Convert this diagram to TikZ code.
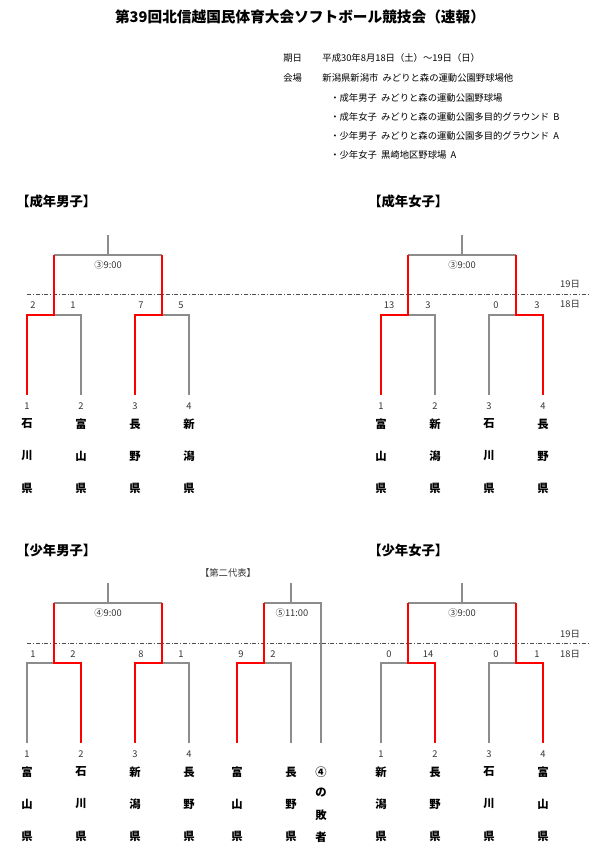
\documentclass[tikz,border=0pt]{standalone}
\usepackage{fontspec}
\setmainfont{Noto Sans CJK JP}
\begin{document}
\begin{tikzpicture}[x=0.75pt,y=-0.75pt,
  ln/.style={draw=gray!90,line width=0.8pt},
  rd/.style={draw=red,line width=1.5pt},
  dl/.style={draw=black!70,line width=0.5pt,dash pattern=on 3pt off 1.5pt on 0.5pt off 1.5pt},
  sm/.style={font=\fontsize{7}{8}\selectfont,text=black!80,inner sep=0pt},
  pf/.style={font=\bfseries\fontsize{8.5}{9}\selectfont,inner sep=0pt},
  hd/.style={font=\bfseries\fontsize{10}{11}\selectfont,inner sep=0pt,anchor=west},
  inf/.style={font=\fontsize{7}{8}\selectfont,inner sep=0pt,anchor=west}]
\useasboundingbox (0,0) rectangle (600,856);
\node[font=\bfseries\fontsize{11}{12}\selectfont] (title) at (300,17) {第39回北信越国民体育大会ソフトボール競技会（速報）};
\node[inf] (i1) at (283,58) {期日\hspace{2.2em}平成30年8月18日（土）〜19日（日）};
\node[inf] (i2) at (283,78) {会場\hspace{2.2em}新潟県新潟市\ \ みどりと森の運動公園野球場他};
\node[inf] (i3) at (330,98) {・成年男子\ \ みどりと森の運動公園野球場};
\node[inf] (i4) at (330,117) {・成年女子\ \ みどりと森の運動公園多目的グラウンド\ \ B};
\node[inf] (i5) at (330,136) {・少年男子\ \ みどりと森の運動公園多目的グラウンド\ \ A};
\node[inf] (i6) at (330,155) {・少年女子\ \ 黒崎地区野球場\ \ A};
\node[hd] (h1) at (16,201) {【成年男子】};
\node[hd] (h2) at (368,201) {【成年女子】};
\node[hd] (h3) at (16,550) {【少年男子】};
\node[hd] (h4) at (368,550) {【少年女子】};
% date lines
\coordinate (d1a) at (27,294); \coordinate (d1b) at (590,294);
\draw[dl] (d1a) -- (d1b);
\coordinate (d2a) at (27,643); \coordinate (d2b) at (590,643);
\draw[dl] (d2a) -- (d2b);
\node[sm] (l19a) at (570,284) {19日}; \node[sm] (l18a) at (570,304) {18日};
\node[sm] (l19b) at (570,634) {19日}; \node[sm] (l18b) at (570,654) {18日};
% generic bracket macro: #1 left x, #2 join y, #3 top y, #4 bottom y
\newcommand{\bracket}[7]{%
 % #1 x0, #2 ytop, #3 time, #4..#7 scores
 \pgfmathsetmacro{\xa}{#1}\pgfmathsetmacro{\xb}{#1+54}\pgfmathsetmacro{\xc}{#1+108}\pgfmathsetmacro{\xd}{#1+162}
}
% ---------- Bracket A
\foreach \p/\nm/\sc/\num/\a/\b/\c in {A/0/0/0/0/0/0}{}
\def\team#1#2#3#4#5#6{% x, ybot, number, c1,c2,c3
 \node[sm] at (#1,#2+11) {#3};
 \node[pf] at (#1,#2+29) {#4};
 \node[pf] at (#1,#2+61) {#5};
 \node[pf] at (#1,#2+93) {#6};}
% A: 成年男子
\coordinate (a1) at (27,395); \coordinate (a2) at (81,395); \coordinate (a3) at (135,395); \coordinate (a4) at (189,395);
\draw[ln] (a2) |- (54,315); \draw[ln] (a4) |- (162,315);
\draw[ln] (54,255) -- (162,255); \draw[ln] (108,255) -- (108,235);
\draw[rd] (a1) |- (54,315) -- (54,255);
\draw[rd] (a3) |- (162,315) -- (162,255);
\node[sm] at (108,265) {③9:00};
\node[sm] at (33,305) {2}; \node[sm] at (73,305) {1}; \node[sm] at (141,305) {7}; \node[sm] at (181,305) {5};
\team{27}{395}{1}{石}{川}{県}\team{81}{395}{2}{富}{山}{県}\team{135}{395}{3}{長}{野}{県}\team{189}{395}{4}{新}{潟}{県}
% B: 成年女子
\coordinate (b1) at (381,395); \coordinate (b2) at (435,395); \coordinate (b3) at (489,395); \coordinate (b4) at (543,395);
\draw[ln] (b2) |- (408,315); \draw[ln] (b3) |- (516,315);
\draw[ln] (408,255) -- (516,255); \draw[ln] (462,255) -- (462,235);
\draw[rd] (b1) |- (408,315) -- (408,255);
\draw[rd] (b4) |- (516,315) -- (516,255);
\node[sm] at (462,265) {③9:00};
\node[sm] at (389,305) {13}; \node[sm] at (428,305) {3}; \node[sm] at (496,305) {0}; \node[sm] at (537,305) {3};
\team{381}{395}{1}{富}{山}{県}\team{435}{395}{2}{新}{潟}{県}\team{489}{395}{3}{石}{川}{県}\team{543}{395}{4}{長}{野}{県}
% C: 少年男子
\coordinate (c1) at (27,743); \coordinate (c2) at (81,743); \coordinate (c3) at (135,743); \coordinate (c4) at (189,743);
\coordinate (c5) at (237,743); \coordinate (c6) at (291,743); \coordinate (c7) at (321,743);
\draw[ln] (c1) |- (54,663); \draw[ln] (c4) |- (162,663);
\draw[ln] (54,603) -- (162,603); \draw[ln] (108,603) -- (108,583);
\draw[rd] (c2) |- (54,663) -- (54,603);
\draw[rd] (c3) |- (162,663) -- (162,603);
\node[sm] at (108,613) {④9:00};
\node[sm] at (33,654) {1}; \node[sm] at (73,654) {2}; \node[sm] at (141,654) {8}; \node[sm] at (181,654) {1};
\draw[ln] (c6) |- (264,663); \draw[ln] (c7) |- (264,603); \draw[ln] (291,603) -- (291,583);
\draw[rd] (c5) |- (264,663) -- (264,603);
\node[sm] at (292,613) {⑤11:00};
\node[sm] at (241,654) {9}; \node[sm] at (273,654) {2};
\node[sm] (dai2) at (228,573) {【第二代表】};
\team{27}{743}{1}{富}{山}{県}\team{81}{743}{2}{石}{川}{県}\team{135}{743}{3}{新}{潟}{県}\team{189}{743}{4}{長}{野}{県}
\team{237}{743}{}{富}{山}{県}\team{291}{743}{}{長}{野}{県}
\node[pf] at (321,772) {④}; \node[pf] at (321,793) {の}; \node[pf] at (321,815) {敗}; \node[pf] at (321,837) {者};
% D: 少年女子
\coordinate (e1) at (381,743); \coordinate (e2) at (435,743); \coordinate (e3) at (489,743); \coordinate (e4) at (543,743);
\draw[ln] (e1) |- (408,663); \draw[ln] (e3) |- (516,663);
\draw[ln] (408,603) -- (516,603); \draw[ln] (462,603) -- (462,583);
\draw[rd] (e2) |- (408,663) -- (408,603);
\draw[rd] (e4) |- (516,663) -- (516,603);
\node[sm] at (462,613) {③9:00};
\node[sm] at (389,654) {0}; \node[sm] at (428,654) {14}; \node[sm] at (496,654) {0}; \node[sm] at (537,654) {1};
\team{381}{743}{1}{新}{潟}{県}\team{435}{743}{2}{長}{野}{県}\team{489}{743}{3}{石}{川}{県}\team{543}{743}{4}{富}{山}{県}
\end{tikzpicture}
\end{document}
